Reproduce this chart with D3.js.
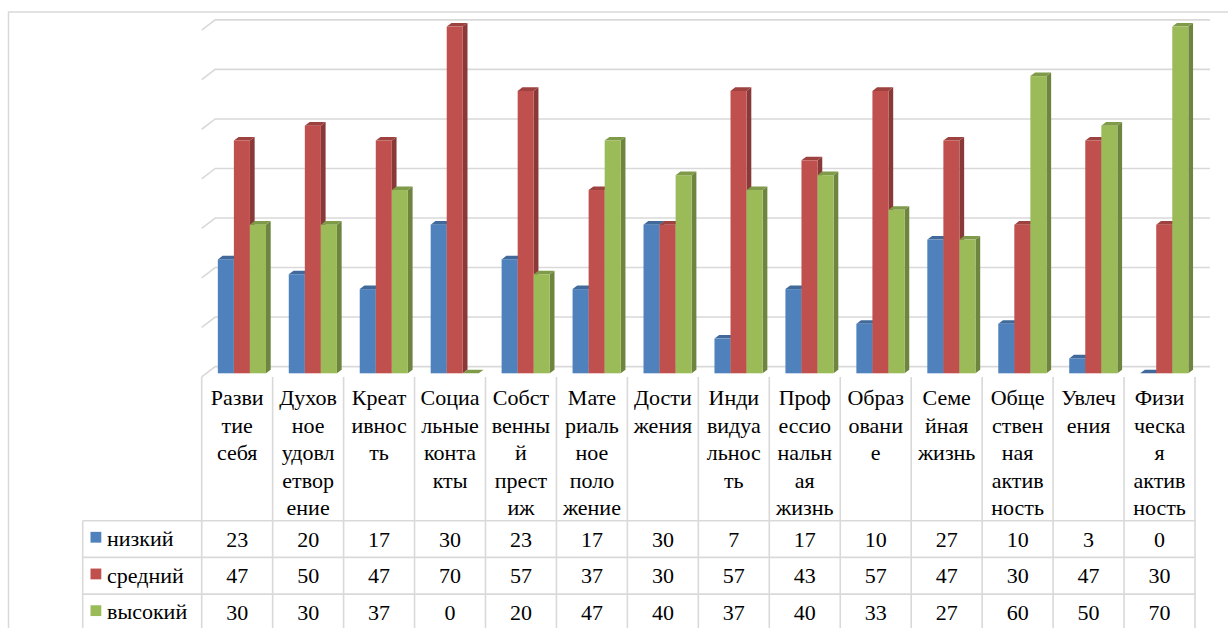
<!DOCTYPE html>
<html>
<head>
<meta charset="utf-8">
<script src="https://cdn.jsdelivr.net/npm/d3@7/dist/d3.min.js"></script>
</head>
<body style="margin:0">
<svg id="chart" width="1228" height="628"></svg>
<script>
// Category labels, wrapped as they appear in the column headers
const categoryLines = [
  ["Разви", "тие", "себя"],
  ["Духов", "ное", "удовл", "етвор", "ение"],
  ["Креат", "ивнос", "ть"],
  ["Социа", "льные", "конта", "кты"],
  ["Собст", "венны", "й", "прест", "иж"],
  ["Мате", "риаль", "ное", "поло", "жение"],
  ["Дости", "жения"],
  ["Инди", "видуа", "льнос", "ть"],
  ["Проф", "ессио", "нальн", "ая", "жизнь"],
  ["Образ", "овани", "е"],
  ["Семе", "йная", "жизнь"],
  ["Обще", "ствен", "ная", "актив", "ность"],
  ["Увлеч", "ения"],
  ["Физи", "ческа", "я", "актив", "ность"]
];
const categories = categoryLines.map(l => l.join(""));

const seriesNames = ["низкий", "средний", "высокий"];
const low    = [23, 20, 17, 30, 23, 17, 30, 7, 17, 10, 27, 10, 3, 0];
const medium = [47, 50, 47, 70, 57, 37, 30, 57, 43, 57, 47, 30, 47, 30];
const high   = [30, 30, 37, 0, 20, 47, 40, 37, 40, 33, 27, 60, 50, 70];
const seriesValues = [low, medium, high];
const seriesColors = ["#4F81BD", "#C0504D", "#9BBB59"];

const gridTicks = [0, 10, 20, 30, 40, 50, 60, 70];

const svg = d3.select("#chart").style("font-family", "Liberation Serif");
const W = 1228, H = 628;
const fs = 22;

// outer chart frame
svg.append("rect")
  .attr("x", 8.5).attr("y", 12).attr("width", W + 10).attr("height", H + 10)
  .attr("fill", "none").attr("stroke", "#d9d9d9").attr("stroke-width", 1.5);

// plot geometry (front floor edge and oblique depth)
const x0 = 201.7, x1 = 1195;
const floorY = 376.9;
const DX = 13.5, DY = -10.3;          // full floor depth
const barFront = 0.35, barBack = 0.70; // bar placement within depth

const x = d3.scaleBand().domain(d3.range(categories.length)).range([x0, x1]).padding(0);
const xs = d3.scaleBand().domain(d3.range(3))
  .range([11.4, x.bandwidth() - 11.4]).padding(0);
const y = d3.scaleLinear().domain([0, 70]).range([floorY, floorY - 70 * 4.953]);

// back wall gridlines with oblique side segments
const grid = svg.append("g").attr("stroke", "#d9d9d9").attr("stroke-width", 1.6).attr("fill", "none");
gridTicks.forEach(t => {
  const yb = y(t) + DY;
  grid.append("path")
    .attr("d", `M${x0},${y(t)}L${x0 + DX},${yb}L${x1 + 15},${yb}`);
});

// bars drawn as three faces: front, right side, top
const bars = svg.append("g");
const fx = DX * barFront, fy = DY * barFront;
const bdx = DX * (barBack - barFront), bdy = DY * (barBack - barFront);

categories.forEach((c, i) => {
  seriesValues.forEach((vals, s) => {
    const v = vals[i];
    const col = d3.color(seriesColors[s]);
    const left = x(i) + xs(s) + fx;
    const w = xs.bandwidth();
    const bottom = y(0) + fy;
    const top = y(v) + fy;
    const g = bars.append("g");
    // side
    g.append("path")
      .attr("d", `M${left + w},${bottom}L${left + w + bdx},${bottom + bdy}L${left + w + bdx},${top + bdy}L${left + w},${top}Z`)
      .attr("fill", col.darker(0.95));
    // top
    g.append("path")
      .attr("d", `M${left},${top}L${left + bdx},${top + bdy}L${left + w + bdx},${top + bdy}L${left + w},${top}Z`)
      .attr("fill", col.darker(0.55));
    // front
    if (v > 0) {
      g.append("rect")
        .attr("x", left).attr("y", top)
        .attr("width", w).attr("height", bottom - top)
        .attr("fill", col);
    }
  });
});

// data table
const lineCol = "#d9d9d9";
const rowTop = 520.7, rowH = 36.7;
const tableLeft = 82.7;

// category header column lines
d3.range(categories.length + 1).forEach(i => {
  const xx = i < categories.length ? x(i) : x1;
  svg.append("line")
    .attr("x1", xx).attr("x2", xx).attr("y1", floorY).attr("y2", H + 5)
    .attr("stroke", lineCol).attr("stroke-width", 1.6);
});
// row lines
d3.range(4).forEach(r => {
  const yy = rowTop + r * rowH;
  svg.append("line")
    .attr("x1", tableLeft).attr("x2", x1).attr("y1", yy).attr("y2", yy)
    .attr("stroke", lineCol).attr("stroke-width", 1.6);
});
svg.append("line")
  .attr("x1", tableLeft).attr("x2", tableLeft).attr("y1", rowTop).attr("y2", H + 5)
  .attr("stroke", lineCol).attr("stroke-width", 1.6);

function label(px, py, str, anchor) {
  return svg.append("text")
    .attr("x", px).attr("y", py)
    .attr("text-anchor", anchor)
    .style("font-family", "Liberation Serif")
    .attr("font-size", fs)
    .text(str);
}

// category header text
categoryLines.forEach((lines, i) => {
  lines.forEach((ln, k) => {
    label(x(i) + x.bandwidth() / 2, 405 + k * 27.5, ln, "middle");
  });
});

// series rows: legend key, name, values
seriesNames.forEach((name, s) => {
  const cy = rowTop + s * rowH + rowH / 2;
  svg.append("rect")
    .attr("x", 90.5).attr("y", cy - 7.2).attr("width", 10.8).attr("height", 10.8)
    .attr("fill", seriesColors[s]);
  label(107, cy + 7, name, "start");
  seriesValues[s].forEach((v, i) => {
    label(x(i) + x.bandwidth() / 2, cy + 7.5, String(v), "middle");
  });
});
</script>
</body>
</html>
